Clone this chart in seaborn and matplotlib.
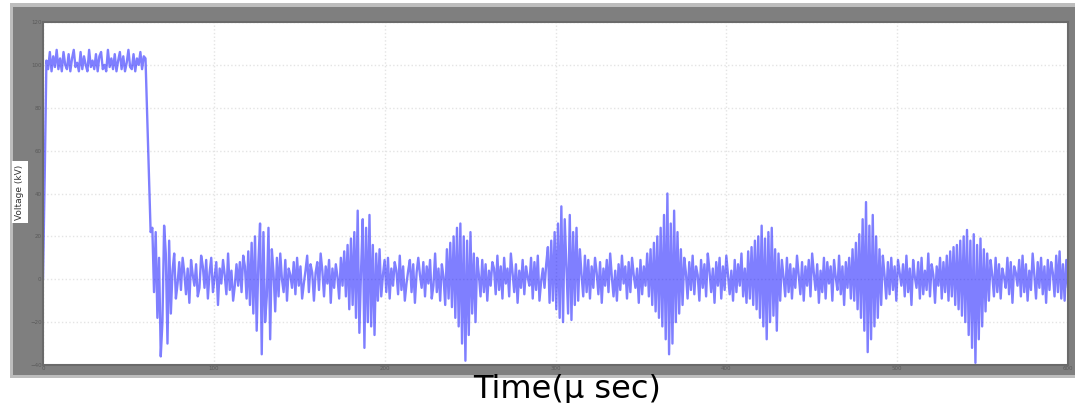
import numpy as np
import pandas as pd
import matplotlib
matplotlib.use("Agg")
import matplotlib.pyplot as plt
from matplotlib.patches import Rectangle
import seaborn as sns

# ---- signal values (kV) ----
rise_t = [0, 1]
rise_v = [0, 48]

plateau_t0, plateau_t1 = 2, 60
plateau_v = [102, 98, 106, 97, 104, 99, 107, 98, 103, 97,
             106, 100, 98, 105, 97, 103, 107, 99, 101, 97,
             106, 98, 104, 100, 97, 107, 99, 102, 98, 105,
             97, 104, 106, 98, 100, 97, 107, 99, 103, 98,
             105, 97, 102, 106, 98, 104, 97, 101, 107, 99,
             98, 105, 97, 103, 100, 106, 98, 104, 103]

drop_t = [61, 62, 63]
drop_v = [76, 48, 22]

# after the pulse: residual oscillation with recurring bursts
noise_t0, noise_t1 = 64, 600
noise_v = [
    24, -6, 22, -18, 10, -36, -20, 25, 12, -30, 18, -16, 4, 12, -9, -2, 8, -5, 10, 3,
    -7, 5, -11, 9, 2, -3, 7, -8, -4, 11, 6, -4, 9, -9, 3, 10, -6, 1, 8, -12,
    5, -2, 9, 2, -7, 12, -5, 4, -10, -3, 7, -3, 8, -6, 11, 6, -9, 13, -12, 17,
    -16, 20, -24, 8, 26, -35, 22, -20, -8, 24, -28, 14, 3, -15, 10, -8, 12, 0, -6, 9,
    -10, 5, 2, -4, 8, -7, 10, -3, 6, -9, -2, 4, 11, -6, 7, 3, -10, 3, 8, -5,
    12, 4, -8, 6, -2, 9, -11, 5, -4, 7, 1, -9, 10, -3, 13, -8, 16, -14, 19, -12,
    22, -18, 32, -25, 4, 28, -32, 24, -20, 30, -22, 16, -26, 12, -10, 14, -8, 2, 9, -6,
    10, -9, 5, -3, 8, 4, -7, 11, -5, 6, -10, -2, 4, 9, -6, 7, -11, 3, 10, 2,
    -4, 8, -8, 6, -2, 9, -9, -3, 12, -6, 5, -10, 7, 1, -12, 14, -9, 17, -13, 20,
    -18, 24, -22, 26, -30, 20, -38, 18, -26, 22, -16, 12, -20, 10, 2, -8, 9, -6, 7, -10,
    4, -3, 8, 5, -7, 11, -5, 6, -9, 10, -2, 5, -8, 12, 3, -6, 7, -11, 4, -4,
    9, -7, 6, 1, -3, 10, -9, 8, -5, 11, -10, -1, 5, -4, 7, 15, -11, 18, -10, 22,
    -14, 26, -18, 34, -20, 28, 6, -16, 30, -19, 22, -12, 24, -10, 14, 2, -8, 11, -6, 9,
    -9, 6, -4, 10, 3, -7, 8, -11, 5, -3, 9, -6, 12, 1, -8, 4, -10, 7, -5, 11,
    -2, 6, -9, 8, -6, 10, 2, -4, 5, -11, 9, -7, 6, -3, 12, -8, 14, -12, 17, -15,
    20, -18, 24, -22, 30, -28, 40, -35, 26, -30, 32, -20, 22, -16, 14, -12, 10, 3, -9, 8,
    -5, 11, -7, 6, 2, -10, 9, -4, 7, -8, 12, 4, -6, 5, -11, 8, -3, 10, -9, 6,
    -5, 11, 2, -7, 4, -10, 9, -6, 7, -3, 12, -8, 5, -11, 13, -9, 15, -12, 18, -14,
    20, -18, 25, -22, 19, -28, 22, -20, 24, -17, 14, -24, 12, -10, 9, 1, -8, 10, -6, 7,
    -9, 5, -4, 11, 2, -7, 8, -10, 6, -3, 9, -8, 12, 3, -5, 7, -11, 4, -6, 10,
    -9, 8, -2, 6, -10, 9, 1, -5, 11, -7, 6, -12, 8, -4, 10, -9, 14, -10, 17, -14,
    21, -18, 28, -24, 36, -34, 25, -28, 30, -22, 20, -18, 14, -12, 11, 2, -9, 8, -7, 10,
    -5, 6, -10, 9, 3, -3, 7, -8, 11, -6, 5, -12, 9, 1, -4, 8, -9, 10, -7, 4,
    -5, 12, -8, 7, 2, -11, 6, -3, 10, -9, 8, -6, 11, -10, 13, -8, 15, -12, 16, -14,
    18, -17, 20, -20, 23, -26, 18, -32, 21, -39, 16, -28, 19, -22, 14, -15, 12, -10, 9, 2,
    -8, 10, -6, 7, -9, 5, 1, -4, 10, -7, 8, -11, 6, 3, -3, 9, -8, 11, -6, 7,
    -10, 4, -5, 12, 2, -9, 8, -4, 10, -7, 6, -11, 9, -5, 8, 3, -8, 11, -6, 13,
    -9, 7, -10, 9, -4,
]

x_ticks = [0, 100, 200, 300, 400, 500, 600]
y_ticks = [-40, -20, 0, 20, 40, 60, 80, 100, 120]

time = np.concatenate([
    rise_t,
    np.linspace(plateau_t0, plateau_t1, len(plateau_v)),
    drop_t,
    np.linspace(noise_t0, noise_t1, len(noise_v)),
])
voltage = np.concatenate([rise_v, plateau_v, drop_v, noise_v]).astype(float)
df = pd.DataFrame({"time": time, "voltage": voltage})

sns.set_style("white")
plt.rcParams["font.family"] = ["DejaVu Sans"]

fig = plt.figure(figsize=(10.75, 4.03), dpi=100)
fig.patch.set_facecolor("white")
W, H = 1075, 403

def px_rect(x0, y0, x1, y1, color):
    fig.patches.append(Rectangle((x0 / W, 1 - y1 / H), (x1 - x0) / W, (y1 - y0) / H,
                                 transform=fig.transFigure, facecolor=color,
                                 edgecolor="none", zorder=0))

# window frame around the axes
px_rect(10, 3, 1075, 378, "#bdbdbd")
px_rect(13, 7, 1075, 375, "#7f7f7f")

ax = fig.add_axes([43 / W, 1 - 365 / H, 1025 / W, 343 / H])
ax.set_zorder(2)
ax.set_facecolor("white")

sns.lineplot(data=df, x="time", y="voltage", ax=ax, estimator=None, sort=False,
             color="#0000ff", alpha=0.5, linewidth=1.7)

ax.set_xlim(0, 600)
ax.set_ylim(-40, 120)
ax.set_xticks(x_ticks)
ax.set_yticks(y_ticks)
ax.set_axisbelow(True)
ax.grid(True, color="#e4e4e4", linestyle=":", linewidth=1.0)
ax.tick_params(direction="in", length=3, width=1, colors="#5a5a5a",
               labelsize=4, labelcolor="#5a5a5a", pad=1)
for s in ax.spines.values():
    s.set_color("#6a6a6a")
    s.set_linewidth(1.5)
ax.set_xlabel("")
ax.set_ylabel("")

# y-axis label in a white box
t = fig.text(20 / W, 1 - 192 / H, "Voltage (kV)", rotation=90, ha="center", va="center",
             fontsize=6.5, color="#333333",
             bbox=dict(boxstyle="square,pad=0.35", facecolor="white", edgecolor="none"))
t.set_zorder(3)

# x-axis label
fig.text(567 / W, 1 - 398 / H, "Time(μ sec)", ha="center", va="baseline",
         fontsize=23, color="black", zorder=3)

fig.savefig("out.png", dpi=100, facecolor=fig.get_facecolor())
